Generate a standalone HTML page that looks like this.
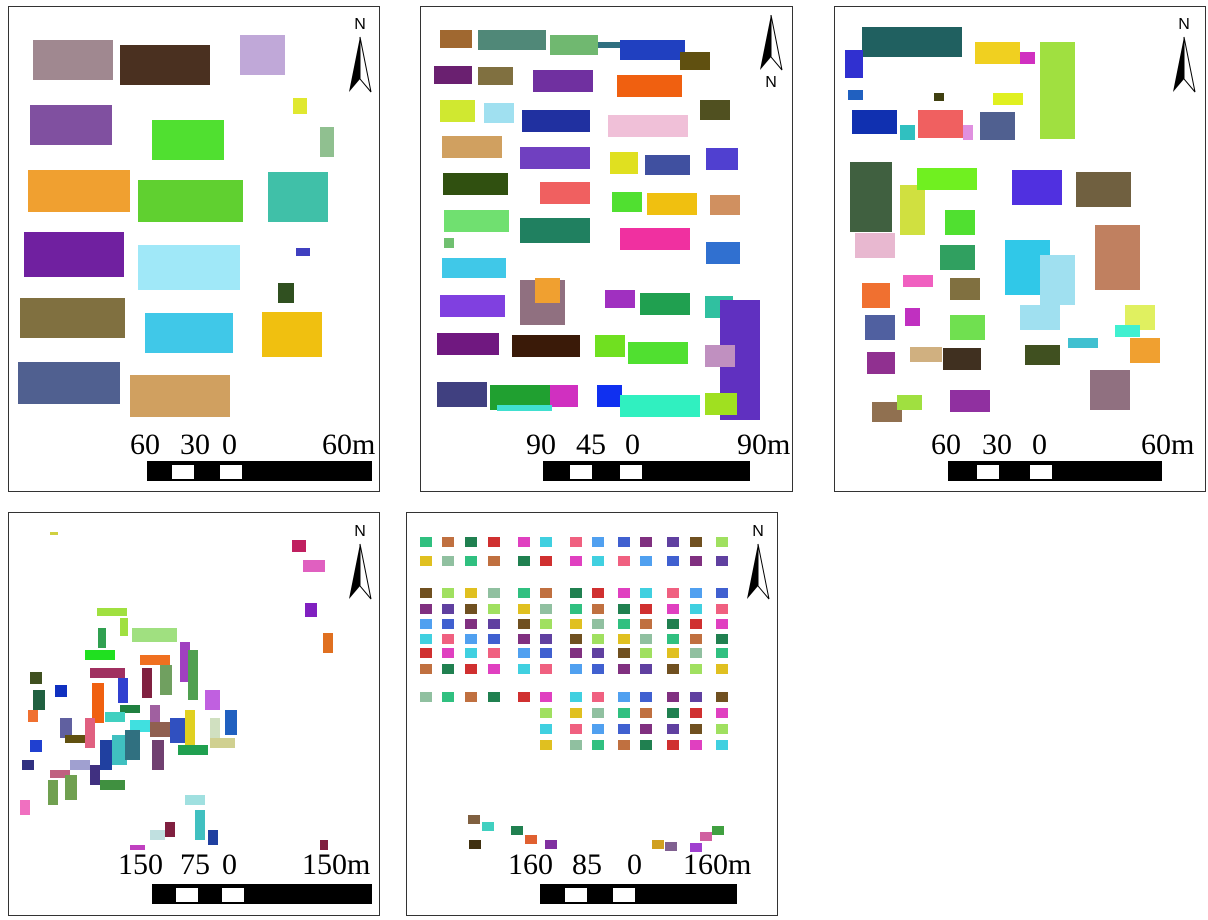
<!DOCTYPE html>
<html><head><meta charset="utf-8"><style>
body{margin:0;width:1208px;height:920px;background:#fff;overflow:hidden;position:relative;font-family:"Liberation Serif",serif}
.p{position:absolute;border:1px solid #333;box-sizing:border-box}
.b{position:absolute}
.lab{position:absolute;font-size:30px;line-height:30px;color:#000}
.bar{position:absolute;height:20px;background:#000}
.w{position:absolute;top:4px;height:14px;background:#fff}
</style></head><body>
<div class="p" style="left:8px;top:6px;width:372px;height:486px"></div>
<div class="p" style="left:420px;top:6px;width:373px;height:486px"></div>
<div class="p" style="left:834px;top:6px;width:372px;height:486px"></div>
<div class="p" style="left:8px;top:512px;width:372px;height:404px"></div>
<div class="p" style="left:406px;top:512px;width:372px;height:404px"></div>
<div id="m"></div>
<script>
const p1=[[33,40,80,40,'#a08890'],[120,45,90,40,'#4a3020'],[240,35,45,40,'#c0a8d8'],[293,98,14,16,'#e0e830'],[320,127,14,30,'#90c090'],[30,105,82,40,'#8050a0'],[152,120,72,40,'#50e030'],[28,170,102,42,'#f0a030'],[138,180,105,42,'#60d030'],[268,172,60,50,'#40c0a8'],[24,232,100,45,'#7020a0'],[138,245,102,45,'#a0e8f8'],[296,248,14,8,'#4040c0'],[278,283,16,20,'#305020'],[20,298,105,40,'#807040'],[145,313,88,40,'#40c8e8'],[262,312,60,45,'#f0c010'],[18,362,102,42,'#506090'],[130,375,100,42,'#d0a060']];
const p2=[[440,30,32,18,'#a06830'],[478,30,68,20,'#508878'],[550,35,48,20,'#70b870'],[598,42,25,6,'#307080'],[620,40,65,20,'#2040c0'],[680,52,30,18,'#605010'],[434,66,38,18,'#6a2070'],[478,67,35,18,'#807040'],[533,70,60,22,'#7030a0'],[617,75,65,22,'#f06010'],[440,100,35,22,'#d0e830'],[484,103,30,20,'#a0e0f0'],[522,110,68,22,'#2030a0'],[608,115,80,22,'#f0c0d8'],[700,100,30,20,'#505020'],[442,136,60,22,'#d0a060'],[520,147,70,22,'#7040c0'],[610,152,28,22,'#e0e020'],[645,155,45,20,'#4050a0'],[706,148,32,22,'#5040d0'],[443,173,65,22,'#305010'],[540,182,50,22,'#f06060'],[612,192,30,20,'#50e030'],[647,193,50,22,'#f0c010'],[710,195,30,20,'#d09060'],[444,210,65,22,'#70e070'],[520,218,70,25,'#208060'],[620,228,70,22,'#f030a0'],[706,242,34,22,'#3070d0'],[444,238,10,10,'#70c070'],[442,258,64,20,'#40c8e8'],[520,280,45,45,'#907080'],[535,278,25,25,'#f0a030'],[605,290,30,18,'#a030c0'],[640,293,50,22,'#20a050'],[705,296,28,22,'#30c0a0'],[720,300,40,120,'#6030c0'],[440,295,65,22,'#8040e0'],[437,333,62,22,'#701880'],[512,335,68,22,'#3a1a08'],[595,335,30,22,'#70e020'],[628,342,60,22,'#50e030'],[705,345,30,22,'#c090c0'],[437,382,50,25,'#404080'],[490,385,60,25,'#20a030'],[550,385,28,22,'#d030c0'],[497,405,55,6,'#40e0d0'],[597,385,25,22,'#1030f0'],[620,395,80,22,'#30f0c0'],[705,393,32,22,'#a0e020']];
const p3=[[862,27,100,30,'#206060'],[845,50,18,28,'#3030d0'],[975,42,45,22,'#f0d020'],[1020,52,15,12,'#d030c0'],[1040,42,35,97,'#a0e040'],[848,90,15,10,'#2060c0'],[934,93,10,8,'#404010'],[993,93,30,12,'#e0f020'],[852,110,45,24,'#1030b0'],[900,125,15,15,'#30c0c0'],[918,110,45,28,'#f06060'],[963,125,10,15,'#e090e0'],[980,112,35,28,'#506090'],[850,162,42,70,'#406040'],[900,185,25,50,'#d0e040'],[917,168,60,22,'#70f020'],[1012,170,50,35,'#5030e0'],[1076,172,55,35,'#706040'],[945,210,30,25,'#50e030'],[855,233,40,25,'#e8b8d0'],[1095,225,45,65,'#c08060'],[862,283,28,25,'#f07030'],[903,275,30,12,'#f060c0'],[940,245,35,25,'#30a060'],[1005,240,45,55,'#30c8e8'],[1040,255,35,50,'#a0e0f0'],[950,278,30,22,'#807040'],[865,315,30,25,'#5060a0'],[905,308,15,18,'#c030c0'],[950,315,35,25,'#70e050'],[1020,305,40,25,'#a0e0f0'],[1125,305,30,25,'#e0f060'],[1115,325,25,12,'#40f0d0'],[867,352,28,22,'#903090'],[910,347,32,15,'#d0b080'],[943,348,38,22,'#403020'],[1025,345,35,20,'#405020'],[1068,338,30,10,'#40c0d0'],[1130,338,30,25,'#f0a030'],[872,402,30,20,'#907050'],[897,395,25,15,'#a0e040'],[950,390,40,22,'#9030a0'],[1090,370,40,40,'#907080']];
const p4=[[292,540,14,12,'#c02060'],[303,560,22,12,'#e060c0'],[305,603,12,14,'#8020c0'],[323,633,10,20,'#e07020'],[50,532,8,3,'#d0d040'],[97,608,30,8,'#a0e040'],[98,628,8,20,'#30a050'],[120,618,8,18,'#a0e040'],[132,628,45,14,'#a0e080'],[85,650,30,10,'#20e020'],[140,655,30,10,'#f07020'],[180,642,10,40,'#a040c0'],[188,650,10,50,'#50a050'],[30,672,12,12,'#405020'],[55,685,12,12,'#1030c0'],[90,668,35,10,'#a03060'],[92,683,12,40,'#f06010'],[118,678,10,25,'#3040d0'],[142,668,10,30,'#802040'],[160,665,12,30,'#70a060'],[33,690,12,20,'#206040'],[120,705,20,8,'#208040'],[205,690,15,20,'#c060e0'],[28,710,10,12,'#f07030'],[60,718,12,20,'#6060a0'],[85,718,10,30,'#e06080'],[105,712,20,10,'#40d0c0'],[150,705,10,30,'#a060a0'],[130,720,20,12,'#40e0e0'],[150,722,20,15,'#906050'],[170,718,15,25,'#3050c0'],[185,710,10,40,'#e0d020'],[210,718,10,20,'#d0e0c0'],[225,710,12,25,'#2060c0'],[65,735,20,8,'#605010'],[30,740,12,12,'#2040d0'],[100,740,12,30,'#2040a0'],[112,735,15,30,'#40c0c0'],[125,730,15,30,'#307080'],[152,740,12,30,'#704070'],[178,745,30,10,'#20a050'],[210,738,25,10,'#d0d090'],[22,760,12,10,'#303080'],[50,770,20,8,'#c06080'],[70,760,20,10,'#a0a0d0'],[48,780,10,25,'#70a050'],[65,775,12,25,'#70a050'],[90,765,10,20,'#403080'],[100,780,25,10,'#409040'],[20,800,10,15,'#f070c0'],[185,795,20,10,'#a0e0e0'],[150,830,15,10,'#c0e0e0'],[165,822,10,15,'#802040'],[195,810,10,30,'#40c0c0'],[208,830,10,15,'#2040a0'],[130,845,15,5,'#c040c0'],[320,840,8,10,'#802040']];
const p5cols=[420,442,465,488,518,540,570,592,618,640,667,690,716];
const p5rowsTop=[537,556,588,604,619,634,648,664,692];
const p5rowsLow=[708,724,740];
const p5lowCols=[540,570,592,618,640,667,690,716];
const pal=['#30c080','#e040c0','#4060d0','#a0e060','#c07040','#40d0e0','#803080','#e0c020','#208050','#f06080','#6040a0','#90c0a0','#d03030','#50a0f0','#705020'];
const p5=[];
let k=0;
p5rowsTop.forEach(y=>p5cols.forEach(x=>{p5.push([x,y,12,10,pal[k%pal.length]]);k+=4;}));
p5rowsLow.forEach(y=>p5lowCols.forEach(x=>{p5.push([x,y,12,10,pal[k%pal.length]]);k+=4;}));
[[468,815,'#806040'],[482,822,'#40d0c0'],[511,826,'#208050'],[525,835,'#e06030'],[545,840,'#8030a0'],[469,840,'#403010'],[652,840,'#d0a020'],[665,842,'#806090'],[690,843,'#a040d0'],[700,832,'#d060a0'],[712,826,'#40a040']].forEach(a=>p5.push([a[0],a[1],12,9,a[2]]));
const m=document.getElementById('m');
[p1,p2,p3,p4,p5].forEach((arr,pi)=>arr.forEach(b=>{
 const d=document.createElement('div');
 d.className='b';
 
 
 d.style.cssText=`left:${b[0]}px;top:${b[1]}px;width:${b[2]}px;height:${b[3]}px;background:${b[4]}`;
 m.appendChild(d);
}));
const scales=[[147,461,225,[25,73],['60','30','0','60m'],[130,180,222,322],430],[543,461,207,[27,77],['90','45','0','90m'],[526,576,625,737],430],[948,461,214,[29,82],['60','30','0','60m'],[931,982,1032,1141],430],[152,884,220,[24,70],['150','75','0','150m'],[118,180,222,302],850],[540,884,197,[25,73],['160','85','0','160m'],[508,572,627,683],850]];
scales.forEach(s=>{
 const bar=document.createElement('div');
 bar.className='bar';
 
 
 bar.style.cssText=`left:${s[0]}px;top:${s[1]}px;width:${s[2]}px`;
 s[3].forEach(o=>{const w=document.createElement('div');w.className='w';w.style.cssText=`left:${o}px;width:22px`;bar.appendChild(w);});
 m.appendChild(bar);
 s[4].forEach((t,i)=>{const l=document.createElement('div');l.className='lab';
 
 
 l.style.cssText=`left:${s[5][i]}px;top:${s[6]}px`;l.textContent=t;m.appendChild(l);});
});
const arrows=[[360,15,0],[771,15,1],[1184,15,0],[360,522,0],[758,522,0]];
arrows.forEach(a=>{
 const ns='http://www.w3.org/2000/svg';
 const svg=document.createElementNS(ns,'svg');
 
 
 svg.setAttribute('width','30');svg.setAttribute('height','80');
 svg.style.cssText=`position:absolute;left:${a[0]-15}px;top:${a[1]}px`;
 const ny=a[2]?72:14, ty=a[2]?0:22;
 svg.innerHTML=`<text x="15" y="${ny}" font-family="Liberation Sans,sans-serif" font-size="16" text-anchor="middle">N</text><polygon points="15,${ty} 4,${ty+55} 15,${ty+42}" fill="#000"/><polygon points="15,${ty} 26,${ty+55} 15,${ty+42}" fill="#fff" stroke="#000" stroke-width="1"/>`;
 m.appendChild(svg);
});
</script>
</body></html>
